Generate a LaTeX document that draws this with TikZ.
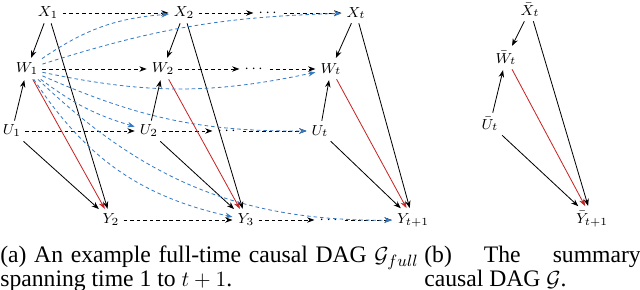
\documentclass[tikz,border=0pt]{standalone}
\usepackage{amsmath, amssymb}
\usepackage{fontspec}
\setmainfont{Liberation Serif}
\usepackage{xcolor}
\usetikzlibrary{arrows.meta}
\definecolor{crossblue}{RGB}{52, 122, 196}
\definecolor{treatred}{RGB}{200, 35, 35}

\tikzset{
  var/.style={font=\footnotesize, inner sep=2.2pt},
  cause/.style={-{Stealth[length=4pt,width=3pt]}, line width=0.45pt, shorten >=0.5pt},
  lag/.style={cause, dash pattern=on 2pt off 1.6pt},
  spill/.style={lag, crossblue},
  treat/.style={cause, treatred},
  caption/.style={anchor=base west, inner sep=0pt, align=left,
    font=\fontsize{13}{13.2}\selectfont},
}

\begin{document}
\begin{tikzpicture}[x=0.55pt, y=-0.55pt]
\useasboundingbox (0,0) rectangle (640,290);
% full-time DAG
\node[var] (X1) at (48,13) {$X_1$};
\node[var] (X2) at (184,13) {$X_2$};
\node[var] (Xd) at (269,13) {$\cdots$};
\node[var] (Xt) at (356,13) {$X_t$};
\node[var] (W1) at (27,69) {$W_1$};
\node[var] (W2) at (163,69) {$W_2$};
\node[var] (Wd) at (255,69) {$\cdots$};
\node[var] (Wt) at (331,69) {$W_t$};
\node[var] (U1) at (12,131) {$U_1$};
\node[var] (U2) at (149,131) {$U_2$};
\node[var] (Ud) at (228,131) {$\cdots$};
\node[var] (Ut) at (320,131) {$U_t$};
\node[var] (Y2) at (111,220) {$Y_2$};
\node[var] (Y3) at (246,220) {$Y_3$};
\node[var] (Yd) at (330,220) {$\cdots$};
\node[var] (Yt) at (413,220) {$Y_{t+1}$};
% lagged edges
\draw[lag] (X1) -- (X2);
\draw[lag] (X2) -- (Xd);
\draw[lag] (Xd) -- (Xt);
\draw[lag] (W1) -- (W2);
\draw[lag] (W2) -- (Wd);
\draw[lag] (Wd) -- (Wt);
\draw[lag] (U1) -- (U2);
\draw[lag] (U2) -- (Ud);
\draw[lag] (Ud) -- (Ut);
\draw[lag] (Y2) -- (Y3);
\draw[lag] (Y3) -- (Yd);
\draw[lag] (Yd) -- (Yt);
% within each slice
\draw[cause] (X1) -- (W1);
\draw[cause] (U1) -- (W1);
\draw[cause] (X1) -- (Y2);
\draw[cause] (U1) -- (Y2);
\draw[treat] (W1) -- (Y2);
\draw[cause] (X2) -- (W2);
\draw[cause] (U2) -- (W2);
\draw[cause] (X2) -- (Y3);
\draw[cause] (U2) -- (Y3);
\draw[treat] (W2) -- (Y3);
\draw[cause] (Xt) -- (Wt);
\draw[cause] (Ut) -- (Wt);
\draw[cause] (Xt) -- (Yt);
\draw[cause] (Ut) -- (Yt);
\draw[treat] (Wt) -- (Yt);
% spill-over from W_1
\draw[spill] (W1) to[bend left=15] (X2);
\draw[spill] (W1) to[bend left=8] (Xt);
\draw[spill] (W1) to[bend right=12] (Wt);
\draw[spill] (W1) to[bend right=10] (U2);
\draw[spill] (W1) to[bend right=12] (Ut);
\draw[spill] (W1) to[bend right=22] (Y3);
\draw[spill] (W1) to[bend right=22] (Yt);
% summary DAG
\node[var] (sX) at (530,10) {$\bar{X}_t$};
\node[var] (sW) at (506,58) {$\bar{W}_t$};
\node[var] (sU) at (490,124) {$\bar{U}_t$};
\node[var] (sY) at (592,219) {$\bar{Y}_{t+1}$};
\draw[cause] (sX) -- (sW);
\draw[cause] (sU) -- (sW);
\draw[cause] (sX) -- (sY);
\draw[cause] (sU) -- (sY);
\draw[treat] (sW) -- (sY);
% captions
\node[caption] (capA) at (0,287)
  {\makebox[230pt][s]{(a) An example full-time causal DAG $\mathcal{G}_{full}$}\\spanning time 1 to $t+1$.};
\node[caption] (capB) at (424,287)
  {\makebox[119pt][s]{(b) The summary}\\causal DAG $\mathcal{G}$.};
\end{tikzpicture}
\end{document}
